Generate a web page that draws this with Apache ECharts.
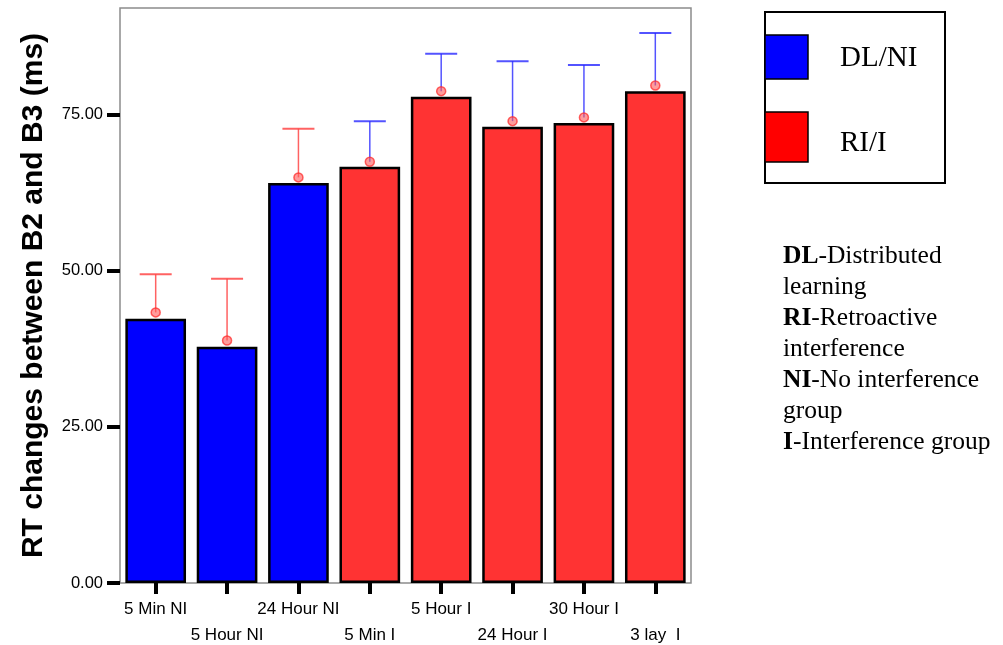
<!DOCTYPE html>
<html>
<head>
<meta charset="utf-8">
<script src="https://cdn.jsdelivr.net/npm/echarts@6/dist/echarts.min.js"></script>
<style>
  html, body { margin: 0; padding: 0; background: #fff; }
  #chart { width: 1003px; height: 645px; }
</style>
</head>
<body>
<div id="chart"></div>
<script>
// values
const categories = ["5 Min NI", "5 Hour NI", "24 Hour NI", "5 Min I", "5 Hour I", "24 Hour I", "30 Hour I", "3 lay  I"];
const groups = ["DL/NI", "DL/NI", "DL/NI", "RI/I", "RI/I", "RI/I", "RI/I", "RI/I"];
const barValues = [42.3, 37.8, 64.0, 66.6, 77.8, 73.0, 73.6, 78.7];
const meanValues = [43.3, 38.8, 64.9, 67.4, 78.7, 73.9, 74.5, 79.6];
const upperValues = [49.4, 48.7, 72.7, 73.9, 84.7, 83.5, 82.9, 88.0];
const yTicks = [0, 25, 50, 75];

const barColor = { "DL/NI": "#0000ff", "RI/I": "#ff3333" };
const errColor = { "DL/NI": "rgba(255,70,70,0.85)", "RI/I": "rgba(40,40,255,0.8)" };

const chart = echarts.init(document.getElementById("chart"));

const option = {
  animation: false,
  grid: {
    left: 120,
    top: 8,
    right: 312,
    bottom: 62,
    outerBoundsMode: "none",
    show: true,
    borderColor: "#8c8c8c",
    borderWidth: 1.5
  },
  xAxis: {
    type: "category",
    data: categories,
    axisLine: { show: false },
    axisTick: {
      show: true,
      alignWithLabel: true,
      length: 11,
      lineStyle: { color: "#000", width: 4 }
    },
    axisLabel: {
      interval: 0,
      margin: 13,
      fontFamily: "Liberation Sans, Arial",
      fontSize: 17,
      color: "#000",
      lineHeight: 26,
      // staggered two-row labels
      formatter: (v, i) => (i % 2 ? "\n" + v : v)
    }
  },
  yAxis: {
    type: "value",
    min: 0,
    max: 92,
    interval: 25,
    axisLine: { show: false },
    splitLine: { show: false },
    axisTick: {
      show: true,
      customValues: yTicks,
      length: 13,
      lineStyle: { color: "#000", width: 4 }
    },
    axisLabel: {
      customValues: yTicks,
      margin: 17,
      fontFamily: "Liberation Sans, Arial",
      fontSize: 16.5,
      color: "#000",
      formatter: v => v.toFixed(2)
    },
    name: "RT changes between B2 and B3 (ms)",
    nameLocation: "middle",
    nameRotate: 90,
    nameGap: 71,
    nameTextStyle: {
      fontFamily: "Liberation Sans, Arial",
      fontWeight: "bold",
      fontSize: 30,
      color: "#000"
    }
  },
  series: [
    {
      type: "bar",
      barCategoryGap: "15%",
      data: barValues.map((v, i) => ({
        value: v,
        itemStyle: { color: barColor[groups[i]] }
      })),
      itemStyle: { borderColor: "#000", borderWidth: 2.5 },
      z: 2
    },
    {
      type: "custom",
      data: meanValues.map((m, i) => [i, m, upperValues[i]]),
      renderItem: (params, api) => {
        const low = api.coord([api.value(0), api.value(1)]);
        const high = api.coord([api.value(0), api.value(2)]);
        const half = 16;
        const stroke = errColor[groups[params.dataIndex]];
        return {
          type: "group",
          children: [
            {
              type: "line",
              shape: { x1: low[0], y1: low[1], x2: high[0], y2: high[1] },
              style: { stroke, lineWidth: 1.5 }
            },
            {
              type: "line",
              shape: { x1: high[0] - half, y1: high[1], x2: high[0] + half, y2: high[1] },
              style: { stroke, lineWidth: 2 }
            }
          ]
        };
      },
      z: 3
    },
    {
      type: "scatter",
      data: meanValues.map((m, i) => [i, m]),
      symbol: "circle",
      symbolSize: 9,
      itemStyle: {
        color: "rgba(255,90,90,0.75)",
        borderColor: "rgba(255,40,40,0.9)",
        borderWidth: 1.5
      },
      z: 4
    }
  ],
  graphic: [
    // legend box
    {
      type: "rect",
      shape: { x: 765, y: 12, width: 180, height: 171 },
      style: { fill: "#fff", stroke: "#000", lineWidth: 2 }
    },
    {
      type: "rect",
      shape: { x: 765, y: 35, width: 43, height: 44 },
      style: { fill: "#0000ff", stroke: "#000", lineWidth: 1.5 }
    },
    {
      type: "rect",
      shape: { x: 765, y: 112, width: 43, height: 50 },
      style: { fill: "#ff0000", stroke: "#000", lineWidth: 1.5 }
    },
    {
      type: "text",
      x: 840,
      y: 58,
      style: {
        text: "DL/NI",
        fontFamily: "Liberation Serif, Times New Roman",
        fontSize: 29,
        fill: "#000",
        verticalAlign: "middle"
      }
    },
    {
      type: "text",
      x: 840,
      y: 143,
      style: {
        text: "RI/I",
        fontFamily: "Liberation Serif, Times New Roman",
        fontSize: 29,
        fill: "#000",
        verticalAlign: "middle"
      }
    },
    // abbreviation notes
    {
      type: "text",
      x: 783,
      y: 241,
      style: {
        text: [
          "{b|DL}-Distributed",
          "learning",
          "{b|RI}-Retroactive",
          "interference",
          "{b|NI}-No interference",
          "group",
          "{b|I}-Interference group"
        ].join("\n"),
        fontFamily: "Liberation Serif, Times New Roman",
        fontSize: 25.5,
        lineHeight: 31,
        fill: "#000",
        rich: {
          b: {
            fontFamily: "Liberation Serif, Times New Roman",
            fontSize: 25.5,
            fontWeight: "bold",
            lineHeight: 31
          }
        }
      }
    }
  ]
};

chart.setOption(option);
</script>
</body>
</html>
